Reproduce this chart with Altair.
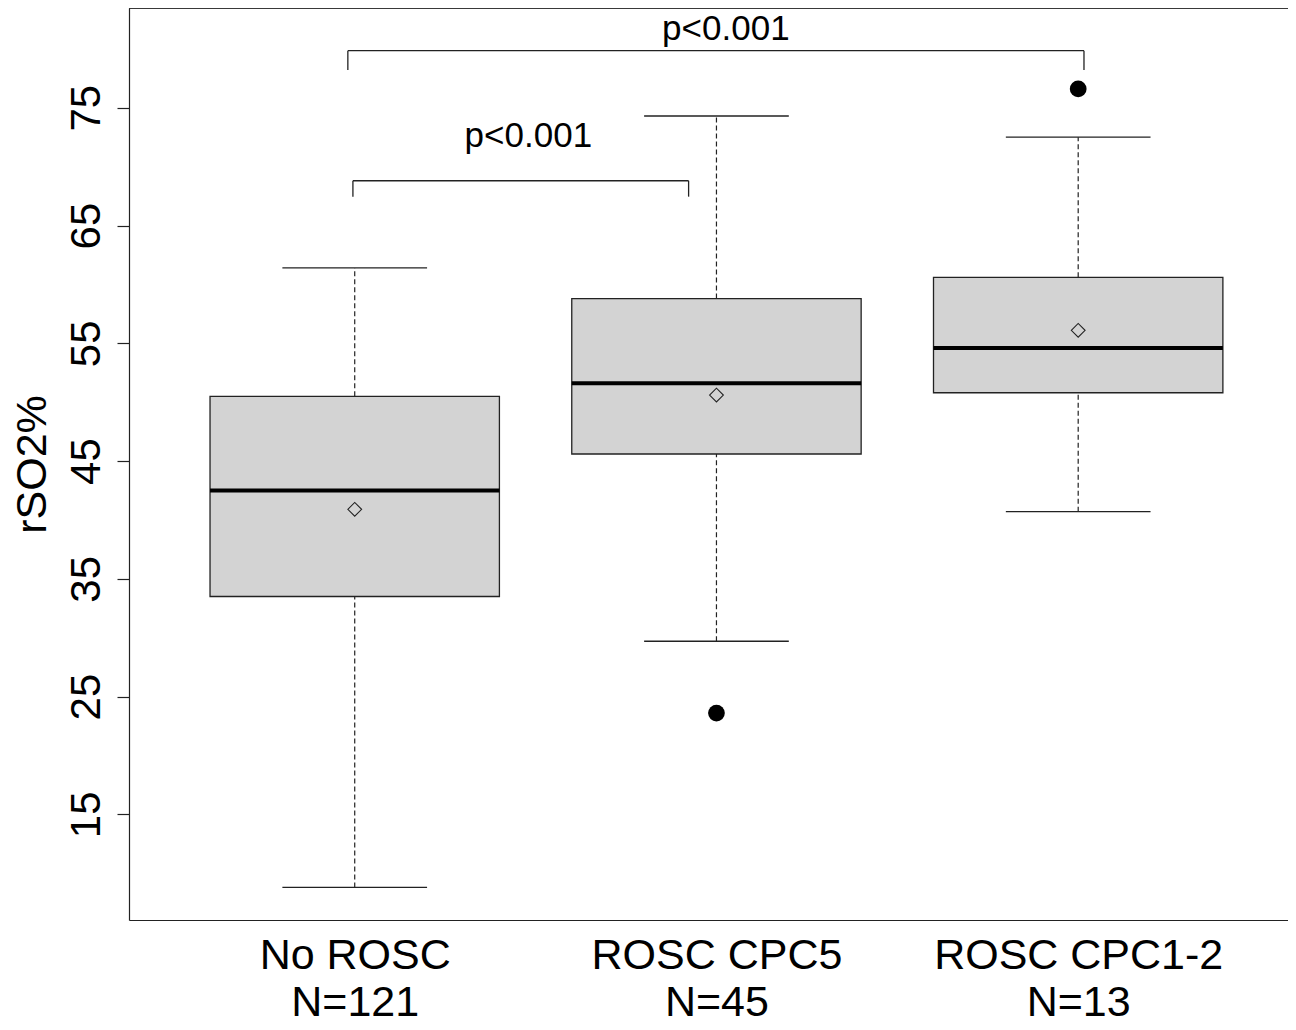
import altair as alt
import pandas as pd

# ---- data ----
groups = ["No ROSC", "ROSC CPC5", "ROSC CPC1-2"]
counts = [121, 45, 13]
positions = [1, 2, 3]
lower_whisker = [8.8, 29.7, 40.7]
q1 = [33.5, 45.6, 50.8]
median = [42.5, 51.6, 54.6]
q3 = [50.5, 58.8, 60.6]
upper_whisker = [61.4, 74.3, 72.5]
means = [40.9, 50.6, 56.1]
outlier_pos = [2, 3]
outlier_val = [23.6, 76.6]

# significance brackets
br_x1 = [0.995, 0.981]
br_x2 = [1.923, 3.016]
br_top = [68.8, 79.85]
br_leg = [67.45, 78.2]
p_labels = ["p<0.001", "p<0.001"]
p_x = [1.48, 2.026]
p_y = [71.66, 80.75]

y_ticks = [15, 25, 35, 45, 55, 65, 75]
Y_DOMAIN = [6.03, 83.47]
X_DOMAIN = [0.376, 3.580]
W, H = 1159, 912
FONT = "Liberation Sans"
BOX_HALF = 0.4
CAP_HALF = 0.2

boxes = pd.DataFrame({
    "pos": positions, "lw": lower_whisker, "q1": q1, "med": median,
    "q3": q3, "uw": upper_whisker, "mean": means,
})
boxes["xl"] = boxes["pos"] - BOX_HALF
boxes["xr"] = boxes["pos"] + BOX_HALF
boxes["cl"] = boxes["pos"] - CAP_HALF
boxes["cr"] = boxes["pos"] + CAP_HALF

whisk = pd.concat([
    pd.DataFrame({"pos": positions, "a": lower_whisker, "b": q1}),
    pd.DataFrame({"pos": positions, "a": q3, "b": upper_whisker}),
])
caps = pd.concat([
    pd.DataFrame({"cl": boxes["cl"], "cr": boxes["cr"], "v": lower_whisker}),
    pd.DataFrame({"cl": boxes["cl"], "cr": boxes["cr"], "v": upper_whisker}),
])
outl = pd.DataFrame({"pos": outlier_pos, "v": outlier_val})

br_h = pd.DataFrame({"x1": br_x1, "x2": br_x2, "y": br_top})
br_v = pd.DataFrame({"x": br_x1 + br_x2, "y1": br_leg + br_leg, "y2": br_top + br_top})
ptext = pd.DataFrame({"x": p_x, "y": p_y, "t": p_labels})

label_expr = ""
for p, g, n in zip(positions, groups, counts):
    label_expr += f"datum.value == {p} ? ['{g}', 'N={n}'] : "
label_expr += "''"

xs = alt.Scale(domain=X_DOMAIN, nice=False, zero=False)
ys = alt.Scale(domain=Y_DOMAIN, nice=False, zero=False)

x_axis = alt.Axis(
    values=positions, labelExpr=label_expr, ticks=False, tickSize=0, grid=False,
    domain=True, domainColor="#222", domainWidth=1.2, title=None,
    labelFont=FONT, labelFontSize=43, labelColor="black", labelLineHeight=47,
    labelPadding=14, labelAngle=0, labelAlign="center", labelBaseline="top",
    labelLimit=0, labelOverlap=False,
)
y_axis = alt.Axis(
    values=y_ticks, grid=False, domain=True, domainColor="#222", domainWidth=1.2,
    ticks=True, tickSize=12, tickColor="#222", tickWidth=1.2,
    labelFont=FONT, labelFontSize=42, labelColor="black", labelAngle=270,
    labelAlign="center", labelBaseline="alphabetic", labelPadding=18,
    title="rSO2%", titleFont=FONT, titleFontSize=43, titleFontWeight="normal",
    titleColor="black", titleAngle=270, titleAlign="center",
    titleBaseline="alphabetic", titleX=-84, titleY=456,
)

base_x = alt.X("pos:Q", scale=xs, axis=x_axis)

whisker_layer = alt.Chart(whisk).mark_rule(
    color="#222", strokeWidth=1.2, strokeDash=[5, 3]
).encode(
    x=base_x,
    y=alt.Y("a:Q", scale=ys, axis=y_axis),
    y2="b:Q",
)

cap_layer = alt.Chart(caps).mark_rule(color="#222", strokeWidth=1.3).encode(
    x=alt.X("cl:Q", scale=xs), x2="cr:Q", y=alt.Y("v:Q", scale=ys)
)

box_layer = alt.Chart(boxes).mark_rect(
    fill="#d3d3d3", stroke="#222", strokeWidth=1.3
).encode(
    x=alt.X("xl:Q", scale=xs), x2="xr:Q",
    y=alt.Y("q1:Q", scale=ys), y2="q3:Q",
)

median_layer = alt.Chart(boxes).mark_rule(color="black", strokeWidth=4).encode(
    x=alt.X("xl:Q", scale=xs), x2="xr:Q", y=alt.Y("med:Q", scale=ys)
)

mean_layer = alt.Chart(boxes).mark_point(
    shape="diamond", filled=False, color="#222", strokeWidth=1.1, size=190, opacity=1
).encode(
    x=alt.X("pos:Q", scale=xs), y=alt.Y("mean:Q", scale=ys)
)

outlier_layer = alt.Chart(outl).mark_circle(color="black", size=280, opacity=1).encode(
    x=alt.X("pos:Q", scale=xs), y=alt.Y("v:Q", scale=ys)
)

bracket_h = alt.Chart(br_h).mark_rule(color="#222", strokeWidth=1.3).encode(
    x=alt.X("x1:Q", scale=xs), x2="x2:Q", y=alt.Y("y:Q", scale=ys)
)
bracket_v = alt.Chart(br_v).mark_rule(color="#222", strokeWidth=1.3).encode(
    x=alt.X("x:Q", scale=xs), y=alt.Y("y1:Q", scale=ys), y2="y2:Q"
)

p_layer = alt.Chart(ptext).mark_text(
    font=FONT, fontSize=35, color="black", align="center", baseline="alphabetic"
).encode(
    x=alt.X("x:Q", scale=xs), y=alt.Y("y:Q", scale=ys), text="t:N"
)

top_border = alt.Chart(boxes).mark_rule(color="#222", strokeWidth=1.2).encode(
    x=alt.value(0), x2=alt.value(W), y=alt.value(0)
)

chart = alt.layer(
    whisker_layer, cap_layer, box_layer, median_layer, mean_layer,
    outlier_layer, bracket_h, bracket_v, p_layer, top_border,
).properties(
    width=W, height=H,
    autosize=alt.AutoSizeParams(type="none"),
    padding={"left": 121, "top": 0, "right": 0, "bottom": 104},
).configure_view(stroke=None).configure(background="white")

chart.save("out.html", embed_options={"renderer": "svg", "actions": False})
